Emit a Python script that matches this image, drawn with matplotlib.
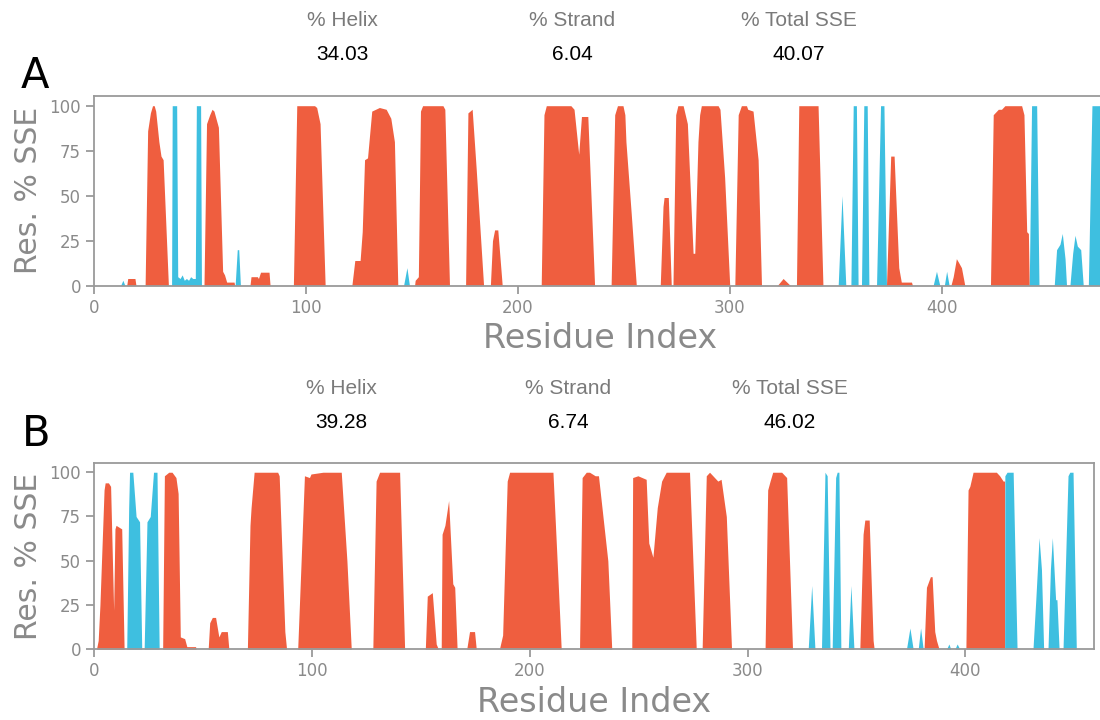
import matplotlib
matplotlib.use("Agg")
import matplotlib.pyplot as plt

# secondary structure per residue, (residue index, % of frames)
helix_a = [(0, 0), (15.3, 0), (15.8, 4), (19.2, 4), (19.7, 0),
           (24, 0), (25.2, 86), (26.5, 96), (27.5, 100), (28.3, 100), (29, 97), (30.5, 80), (31.5, 72), (32.5, 70), (35, 0),
           (51.8, 0), (53, 90), (54.5, 95), (55.6, 98), (56.5, 97), (58.6, 88), (60.6, 8), (61.5, 6), (62.5, 2), (66, 2), (66.3, 0),
           (73.5, 0), (74, 5), (77, 5), (77.5, 4), (78.5, 7.5), (82.5, 7.5), (83, 0),
           (94, 0), (95.6, 100), (104, 100), (105, 99), (106.6, 90), (109, 0),
           (121.6, 0), (123, 14), (125.5, 14), (126.5, 30), (127.6, 70), (129, 71), (131, 97), (134.6, 99), (137.8, 98), (140, 93), (141.7, 80), (143.3, 0),
           (151.2, 0), (151.5, 3), (153, 5), (154, 97), (155, 100), (164.6, 100), (165.5, 98), (167.7, 0),
           (175.3, 0), (176.4, 96), (178.4, 98), (180.3, 65), (183.8, 0),
           (187, 0), (188, 25), (189, 31), (190.5, 31), (192.6, 0),
           (211, 0), (212.3, 95), (213.4, 100), (225, 100), (226.5, 98), (228.7, 73), (230, 94), (233, 94), (236.2, 0),
           (244, 0), (245.7, 95), (247, 100), (249.6, 100), (250.5, 95), (251, 80), (253.5, 40), (255.9, 0),
           (267.2, 0), (268.5, 44), (269, 49), (271, 49), (272.4, 0),
           (273.2, 0), (274.5, 95), (275.5, 100), (278, 100), (280, 90), (282.7, 18), (283.5, 18), (285, 80), (285.8, 95),
           (286.6, 100), (294.5, 100), (295.4, 98), (297.6, 60), (300, 0),
           (302.4, 0), (304, 95), (305.5, 100), (307.9, 100), (308.5, 98), (311, 97), (313.4, 70), (315, 0),
           (322.4, 0), (325.2, 4), (328.7, 0),
           (331.5, 0), (332.6, 100), (341.7, 100), (344, 0),
           (374, 0), (376, 72), (377.6, 72), (379.8, 10), (381, 2), (385.8, 2), (386.3, 0),
           (404.4, 0), (405.5, 5), (407, 15), (408, 13), (409.4, 10), (411, 0),
           (423.1, 0), (424.4, 95), (426.8, 98), (428.3, 98), (429.9, 100), (437.8, 100), (438.9, 95), (440.2, 30), (441, 29), (441.4, 0),
           (477, 0)]

strand_a = [(0, 0), (12.4, 0), (13.5, 3), (14.5, 0),
            (36.5, 0), (36.8, 100), (38.9, 100), (39.4, 5), (40.5, 4), (41.5, 6), (42.5, 3), (43.5, 4), (44.5, 3),
            (45.5, 5), (46.5, 4), (47.7, 4), (48.2, 100), (50.2, 100), (50.6, 0),
            (66.5, 0), (67.5, 20), (68.2, 20), (69, 0),
            (146, 0), (147.6, 10), (148.8, 0),
            (351.2, 0), (353, 50), (354.8, 0),
            (357.2, 0), (358.3, 100), (359.8, 100), (360.6, 0),
            (362.2, 0), (363.3, 100), (364.9, 100), (365.7, 0),
            (369.3, 0), (371.2, 100), (372.8, 100), (374, 0),
            (396, 0), (397.6, 8), (399.2, 0),
            (401.3, 0), (402.4, 8), (403.6, 0),
            (441.4, 0), (442.5, 100), (444.9, 100), (446, 0),
            (453.2, 0), (454.3, 20), (455.9, 23), (457, 29), (458.3, 15), (459, 0),
            (460.6, 0), (461.9, 18), (463, 28), (464.1, 22), (465.7, 20), (466.9, 0),
            (469.3, 0), (470.3, 60), (471, 100), (477, 100)]

helix_b = [(0, 0), (1, 0), (1.8, 5), (2.6, 25), (4.5, 90), (5, 94), (6.5, 94), (7.5, 92), (8.9, 22), (9.5, 68), (10, 70), (12.6, 68), (13.7, 0),
           (31.4, 0), (32.2, 98), (34.2, 100), (35.7, 100), (37.5, 97), (38.5, 88), (39.5, 7), (41.5, 6), (42.5, 1.5), (46.5, 1.5), (46.8, 0),
           (52.3, 0), (53, 15), (54.2, 18), (55.7, 18), (57.2, 7), (58.3, 10), (61.1, 10), (61.8, 0),
           (70.3, 0), (71.5, 70), (72, 80), (73.4, 100), (84.2, 100), (84.9, 98), (87.5, 10), (88.3, 0),
           (93.4, 0), (96.5, 98), (98.8, 97), (99.5, 99), (105, 100), (113.4, 100), (116, 50), (118, 0),
           (127.9, 0), (129.4, 95), (131, 100), (140.2, 100), (142.5, 0),
           (152, 0), (152.9, 30), (155.2, 32), (157, 3), (158, 0),
           (159.3, 0), (159.7, 65), (161, 70), (162.7, 84), (164.6, 37), (165.5, 35), (166.6, 0),
           (171, 0), (172.3, 10), (174.6, 10), (175.4, 0),
           (186, 0), (187.5, 8), (189.6, 95), (190.7, 100), (210.6, 100), (212.9, 40), (214.4, 0),
           (222.8, 0), (224, 97), (225.9, 100), (227.4, 100), (230, 98), (231.5, 98), (235.8, 50), (237.6, 0),
           (246.8, 0), (247.2, 97), (249.6, 98), (253.4, 96), (254.6, 60), (256.5, 52), (258.5, 80), (260.5, 95),
           (262.6, 100), (273.3, 100), (276.4, 0),
           (279.1, 0), (281, 98), (282.5, 100), (286.3, 95), (287.8, 96), (290.2, 75), (292.6, 0),
           (308, 0), (309.2, 90), (310.3, 95), (311.5, 100), (315.6, 100), (317.9, 97), (320.6, 0),
           (351.5, 0), (353, 65), (353.8, 73), (355.8, 73), (357.6, 5), (358.1, 0),
           (381, 0), (382.1, 35), (383.9, 41), (384.7, 41), (385.9, 10), (386.7, 5), (387.9, 0),
           (400.2, 0), (401.2, 90), (402, 92), (403.5, 100), (414.2, 100), (415.7, 98), (417.3, 95), (418, 95), (418.05, 0),
           (459, 0)]

strand_b = [(0, 0), (14.9, 0), (15.8, 80), (16.2, 100), (17.7, 100), (19.2, 75), (20.8, 72), (21.8, 0),
            (22.9, 0), (24.2, 72), (25.7, 75), (27.2, 100), (28.8, 100), (29.8, 0),
            (327.8, 0), (329.4, 36), (330.9, 0),
            (333.9, 0), (335.5, 100), (336.5, 98), (337.8, 0),
            (338.8, 0), (340.4, 97), (341.1, 100), (341.9, 100), (342.8, 0),
            (346.2, 0), (347.4, 36), (348.8, 0),
            (372.9, 0), (374.5, 12), (376, 0),
            (378.3, 0), (379.4, 12), (380.6, 0),
            (391.3, 0), (392.4, 3), (393.3, 0),
            (395.1, 0), (396.2, 3), (397.4, 0),
            (418, 0), (418.1, 98), (419.1, 100), (421.9, 100), (423.7, 0),
            (431, 0), (432.3, 28), (433.8, 63), (434.9, 45), (435.9, 0),
            (437.9, 0), (439, 45), (439.9, 63), (441.4, 28), (442, 28), (443, 0),
            (444.8, 0), (447.1, 98), (447.9, 100), (449.4, 100), (450.9, 0),
            (459, 0)]

stat_names = ["% Helix", "% Strand", "% Total SSE"]
stats_a = ["34.03", "6.04", "40.07"]
stats_b = ["39.28", "6.74", "46.02"]

HELIX = "#EF5E3F"
STRAND = "#3EBFE0"
GREY = "#8a8a8a"


def draw_panel(ax, helix, strand, xmax):
    hx, hy = zip(*helix)
    sx, sy = zip(*strand)
    ax.fill_between(hx, hy, 0, color=HELIX, lw=0)
    ax.fill_between(sx, sy, 0, color=STRAND, lw=0)
    ax.set_xlim(0, xmax)
    ax.set_ylim(0, 105.4)
    ax.set_yticks([0, 25, 50, 75, 100])
    ax.set_xticks([0, 100, 200, 300, 400])
    for s in ax.spines.values():
        s.set_color("#9a9a9a")
        s.set_linewidth(1.3)
    ax.tick_params(colors="#9a9a9a", labelcolor=GREY, labelsize=12, length=6, width=1.3)
    ax.set_ylabel("Res. % SSE", fontsize=21.5, color=GREY, labelpad=5)
    ax.set_xlabel("Residue Index", fontsize=24, color=GREY, labelpad=4)


fig = plt.figure(figsize=(11, 7.2), dpi=100)

ax_a = fig.add_axes([0.0857, 0.6032, 0.9193, 0.2635])
draw_panel(ax_a, helix_a, strand_a, 477.4)
ax_b = fig.add_axes([0.0857, 0.0982, 0.9088, 0.2592])
draw_panel(ax_b, helix_b, strand_b, 459)

# stats text above each panel
for xs, ys, vals in [([342, 572, 799], (20, 54), stats_a), ([341, 568, 790], (388, 422), stats_b)]:
    for x, name, val in zip(xs, stat_names, vals):
        fig.text(x / 1100, 1 - ys[0] / 720, name, ha="center", va="center",
                 fontsize=15, color="#7a7a7a", family="Liberation Sans")
        fig.text(x / 1100, 1 - ys[1] / 720, val, ha="center", va="center",
                 fontsize=15, color="black", family="Liberation Sans")

fig.text(35 / 1100, 1 - 76 / 720, "A", ha="center", va="center", fontsize=30, color="black")
fig.text(36 / 1100, 1 - 434 / 720, "B", ha="center", va="center", fontsize=30, color="black")

fig.savefig("out.png", dpi=100)
